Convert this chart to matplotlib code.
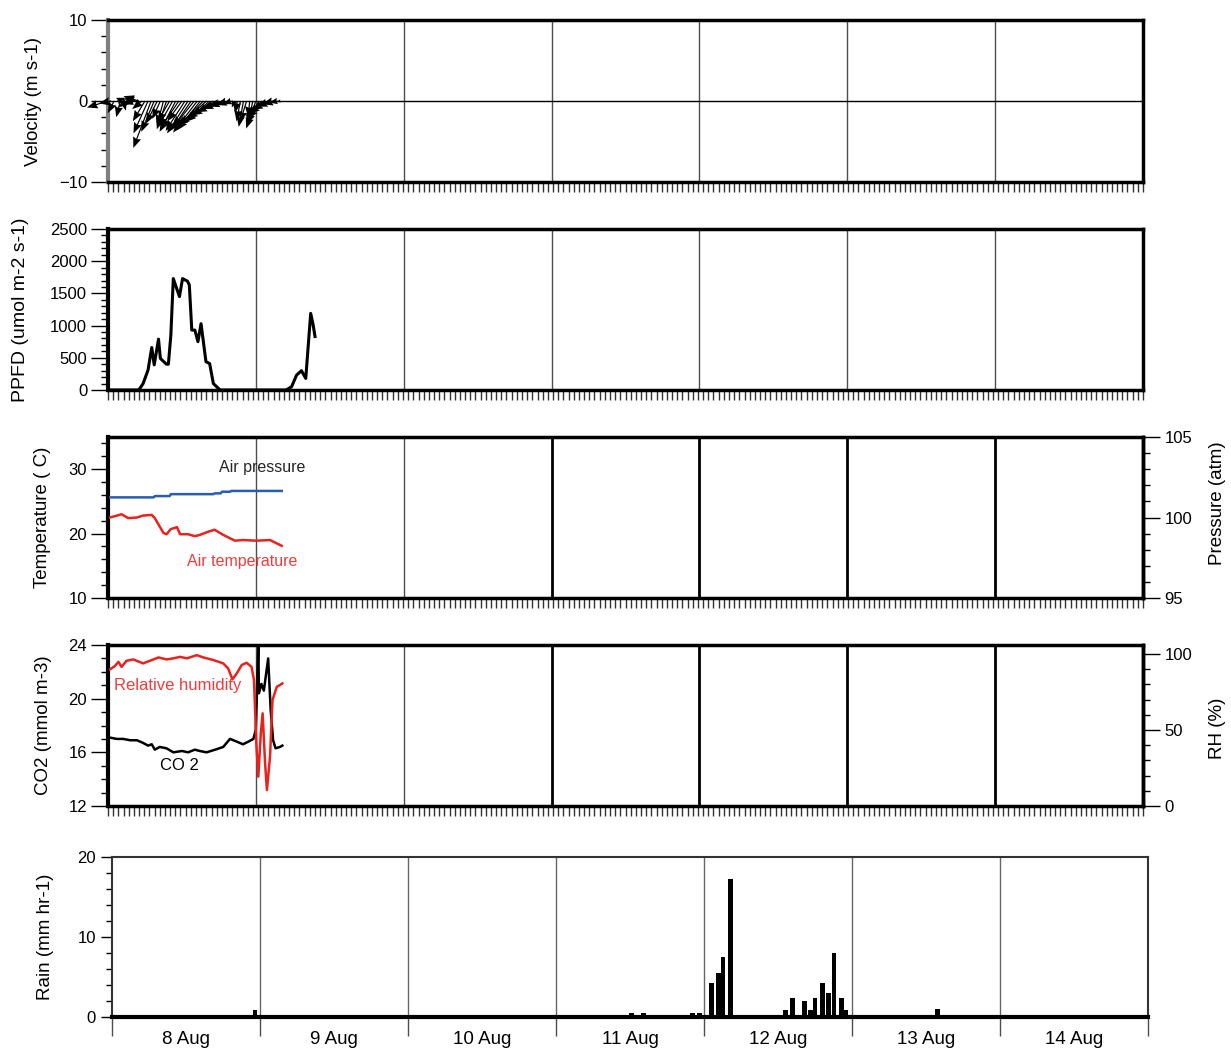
import numpy as np
import matplotlib
matplotlib.use("Agg")
import matplotlib.pyplot as plt
from matplotlib.ticker import MultipleLocator

plt.rcParams['font.family'] = ['Liberation Sans', 'DejaVu Sans']

# data (hours from 8 Aug 00:00)
wind_t = [0, 0.5, 1, 1.5, 2, 2.5, 3, 3.5, 4, 4.5, 5, 5.5, 6, 6.5, 7, 7.5, 8, 8.5, 9, 9.5,
          10, 10.5, 11, 11.5, 12, 12.5, 13, 13.5, 14, 14.5, 15, 15.5, 16, 16.5, 17, 17.5,
          18, 18.5, 19, 19.5, 20, 20.5, 21, 21.5, 22, 22.5, 23, 23.5, 24, 24.5, 25, 25.5,
          26, 26.5, 27, 27.5, 28]
wind_u = [-2.6, -1.5, -0.8, 1.0, -0.5, 0.3, -1.0, -0.5, -1.2, -1.5, -1.9, -1.2, -1.5, -1.8,
          -2.2, -1.6, -1.4, -1.0, -0.8, -1.2, -1.5, -1.8, -2.0, -2.3, -1.8, -2.4, -2.6, -2.2,
          -2.8, -3.0, -2.9, -3.2, -3.4, -3.0, -3.2, -3.0, -2.8, -2.4, -2.0, -1.5, -1.0, -0.3,
          -0.3, -0.5, -0.6, -0.8, -0.2, -0.6, -1.2, -1.6, -1.8, -2.0, -2.0, -1.8, -1.5, -1.0, -0.5]
wind_v = [-0.8, -0.3, -1.5, 0.4, -2.0, -1.2, -0.8, -0.5, -0.4, 0.3, 0.6, -1.0, -2.5, -4.0,
          -5.8, -3.8, -2.8, -2.2, -3.0, -3.5, -2.6, -3.2, -3.8, -3.4, -2.5, -3.7, -4.0, -3.2,
          -3.5, -3.9, -3.6, -3.2, -3.0, -2.6, -2.2, -1.8, -1.4, -1.0, -0.7, -0.5, -0.4, -0.8,
          -1.5, -2.5, -3.2, -2.6, -2.0, -3.0, -3.4, -2.8, -2.2, -1.6, -1.1, -0.7, -0.4, -0.2, -0.1]

ppfd_t = [0, 5.0, 5.7, 6.5, 7.1, 7.5, 8.2, 8.5, 9.5, 9.8, 10.2, 10.6, 11.6, 12.1, 12.9, 13.2,
          13.6, 14.1, 14.6, 15.1, 15.9, 16.5, 17.1, 18.2, 28.9, 29.8, 30.6, 31.4, 32.1, 32.9,
          33.3, 33.6]
ppfd = [0, 0, 100, 310, 660, 390, 790, 490, 400, 400, 850, 1730, 1450, 1730, 1690, 1630,
        930, 930, 750, 1030, 440, 410, 100, 0, 0, 50, 230, 300, 180, 1190, 1010, 830]

temp_t = [0.3, 1.1, 2.2, 3.3, 4.7, 5.7, 7.1, 7.6, 9.0, 9.5, 10.2, 11.2, 11.7, 13.0, 14.1,
          14.9, 16.3, 17.3, 18.7, 20.6, 21.9, 24.1, 26.3, 28.2]
temp = [22.5, 22.7, 23.0, 22.4, 22.5, 22.8, 22.9, 22.4, 20.1, 19.9, 20.7, 21.0, 19.9, 19.9,
        19.6, 19.8, 20.3, 20.6, 19.8, 18.9, 19.0, 18.9, 19.0, 18.1]
pres_t = [0.3, 7.4, 7.6, 10.0, 10.2, 17.1, 17.3, 18.3, 18.5, 19.8, 20.0, 28.2]
pres = [101.25, 101.25, 101.33, 101.33, 101.45, 101.45, 101.5, 101.5, 101.6, 101.6, 101.65, 101.65]

co2_t = [0.3, 1.4, 2.5, 3.6, 4.7, 5.7, 6.5, 7.1, 7.6, 8.4, 9.5, 10.6, 12.0, 13.0, 14.1, 14.9,
         16.0, 17.4, 18.7, 19.8, 20.9, 21.9, 22.8, 23.6, 24.0, 24.4, 24.5, 24.9, 25.3, 26.0,
         26.4, 26.8, 27.2, 27.9, 28.3]
co2 = [17.1, 17.0, 17.0, 16.9, 16.9, 16.7, 16.5, 16.6, 16.2, 16.4, 16.3, 16.0, 16.1, 16.0,
       16.2, 16.1, 16.0, 16.2, 16.4, 17.0, 16.8, 16.6, 16.8, 17.0, 17.7, 24.1, 20.4, 21.1,
       20.6, 23.0, 19.2, 16.9, 16.3, 16.4, 16.5]
rh_t = [0.3, 1.1, 1.7, 2.2, 3.0, 4.1, 5.7, 6.8, 8.2, 9.5, 10.6, 11.7, 12.8, 14.4, 15.5, 17.1,
        18.7, 19.5, 20.2, 20.9, 21.7, 22.5, 23.3, 23.7, 24.1, 24.4, 24.8, 25.1, 25.5, 25.8,
        26.3, 26.7, 27.4, 27.9, 28.3]
rh = [89.9, 92.1, 94.9, 91.6, 95.6, 96.5, 93.9, 95.6, 97.8, 96.5, 97.2, 98.2, 97.2, 99.3,
      97.8, 96.1, 93.9, 90.6, 83.4, 87.3, 92.8, 94.3, 91.6, 82.9, 39.0, 19.3, 47.8, 61.0,
      28.1, 10.5, 32.4, 69.7, 78.5, 79.6, 80.7]

rain_t = [23.2, 84.2, 86.2, 94.1, 95.3, 97.2, 98.4, 99.1, 100.3, 109.2, 110.4, 112.3, 113.3,
          114.0, 115.2, 116.2, 117.1, 118.3, 119.0, 133.9]
rain = [0.9, 0.5, 0.5, 0.5, 0.5, 4.2, 5.5, 7.5, 17.2, 0.9, 2.4, 2.0, 0.9, 2.4, 4.2, 3.0,
        8.0, 2.4, 0.9, 1.0]

days = ['8 Aug', '9 Aug', '10 Aug', '11 Aug', '12 Aug', '13 Aug', '14 Aug']

W, H = 1231, 1052
fig = plt.figure(figsize=(W/100, H/100), dpi=100)

def box(l, t, r, b):
    return [l/W, 1-b/H, (r-l)/W, (b-t)/H]

ax1 = fig.add_axes(box(108, 20, 1143, 182))
ax2 = fig.add_axes(box(108, 229, 1143, 390))
ax3 = fig.add_axes(box(108, 437, 1143, 598))
ax4 = fig.add_axes(box(108, 645, 1143, 806))
ax5 = fig.add_axes(box(112, 857, 1148, 1017))

LBL = 13.5

def style(ax, leftcol='k', thick=[]):
    ax.set_xlim(0, 7)
    for i in range(1, 7):
        if i in thick:
            ax.axvline(i, color='k', lw=2, zorder=0)
        else:
            ax.axvline(i, color='0.3', lw=1, zorder=0)
    ax.set_xticks(np.linspace(0, 7, 201))
    ax.set_xticklabels([])
    ax.tick_params(axis='x', direction='out', length=7, width=1, color='0.2')
    ax.tick_params(axis='y', which='major', direction='out', length=12, width=1, labelsize=12, pad=3)
    ax.tick_params(axis='y', which='minor', direction='out', length=5, width=1)
    ax.spines['left'].set_color(leftcol)
    ax.spines['left'].set_linewidth(3)
    for s in ['top', 'right', 'bottom']:
        ax.spines[s].set_linewidth(2.5)

# Velocity
style(ax1, leftcol='0.5')
ax1.set_ylim(-10, 10)
ax1.set_yticks([-10, 0, 10])
ax1.yaxis.set_minor_locator(MultipleLocator(2))
ax1.axhline(0, color='k', lw=1, zorder=1)
pos = ax1.get_position()
k = (pos.height*H/20)/(pos.width*W/7)
wt = np.array(wind_t)/24
q = ax1.quiver(wt, np.zeros(len(wt)), np.array(wind_u)*k, wind_v, angles='xy', scale_units='xy',
               scale=1, units='dots', width=1.2, headwidth=7, headlength=9, headaxislength=8,
               color='k', zorder=3)
q.set_clip_on(False)
ax1.set_ylabel('Velocity (m s-1)', fontsize=LBL)
ax1.yaxis.set_label_coords(-0.064, 0.5)

# PPFD
style(ax2)
ax2.plot(np.array(ppfd_t)/24, ppfd, color='k', lw=2.2)
ax2.set_ylim(0, 2500)
ax2.set_yticks([0, 500, 1000, 1500, 2000, 2500])
ax2.yaxis.set_minor_locator(MultipleLocator(100))
ax2.set_ylabel('PPFD (umol m-2 s-1)', fontsize=14)
ax2.yaxis.set_label_coords(-0.076, 0.5)

# Temperature / pressure
style(ax3, thick=[3, 4, 5, 6])
ax3.plot(np.array(temp_t)/24, temp, color='#e8231e', lw=1.8, zorder=3)
ax3.set_ylim(10, 35)
ax3.set_yticks([10, 20, 30])
ax3.yaxis.set_minor_locator(MultipleLocator(2))
ax3.set_ylabel('Temperature ( C)', fontsize=LBL)
ax3.yaxis.set_label_coords(-0.055, 0.5)
ax3b = ax3.twinx()
ax3b.plot(np.array(pres_t)/24, pres, color='#2a5db0', lw=1.8)
ax3b.set_ylim(95, 105)
ax3b.set_yticks([95, 100, 105])
ax3b.yaxis.set_minor_locator(MultipleLocator(1))
ax3b.tick_params(axis='y', which='major', direction='out', length=12, width=1, labelsize=12)
ax3b.tick_params(axis='y', which='minor', direction='out', length=5, width=1)
ax3b.spines['right'].set_linewidth(2.5)
ax3b.set_ylabel('Pressure (atm)', fontsize=LBL)
ax3b.yaxis.set_label_coords(1.064, 0.59)
ax3.text(1.04, 30.3, 'Air pressure', color='0.15', fontsize=11.5, ha='center', va='center')
ax3.text(0.905, 15.7, 'Air temperature', color='#f03c3c', fontsize=11.5, ha='center', va='center')

# CO2 / RH
style(ax4, thick=[3, 4, 5, 6])
ax4.plot(np.array(co2_t)/24, co2, color='k', lw=1.8, zorder=3)
ax4.set_ylim(12, 24)
ax4.set_yticks([12, 16, 20, 24])
ax4.yaxis.set_minor_locator(MultipleLocator(1))
ax4.set_ylabel('CO2 (mmol m-3)', fontsize=LBL)
ax4.yaxis.set_label_coords(-0.054, 0.5)
ax4b = ax4.twinx()
ax4b.plot(np.array(rh_t)/24, rh, color='#e8231e', lw=1.8)
ax4b.set_ylim(0, 106)
ax4b.set_yticks([0, 50, 100])
ax4b.yaxis.set_minor_locator(MultipleLocator(10))
ax4b.tick_params(axis='y', which='major', direction='out', length=12, width=1, labelsize=12)
ax4b.tick_params(axis='y', which='minor', direction='out', length=5, width=1)
ax4b.spines['right'].set_linewidth(2.5)
ax4b.set_ylabel('RH (%)', fontsize=LBL)
ax4b.yaxis.set_label_coords(1.064, 0.48)
ax4.text(0.04, 21.0, 'Relative humidity', color='#f03c3c', fontsize=12, ha='left', va='center')
ax4.text(0.486, 15.0, 'CO 2', color='k', fontsize=12, ha='center', va='center')

# Rain
ax5.set_xlim(0, 7)
for i in range(1, 7):
    ax5.axvline(i, color='0.4', lw=1, zorder=0)
ax5.bar(np.array(rain_t)/24, rain, width=0.75/24, color='k', zorder=3)
ax5.set_ylim(0, 20)
ax5.set_yticks([0, 10, 20])
ax5.yaxis.set_minor_locator(MultipleLocator(2))
ax5.set_xticks(range(8))
ax5.set_xticklabels([])
ax5.set_xticks(np.arange(7) + 0.5, minor=True)
ax5.set_xticklabels(days, minor=True, fontsize=13.5)
ax5.tick_params(axis='x', which='major', direction='out', length=14, width=1, color='0.3')
ax5.tick_params(axis='x', which='minor', length=0, pad=10)
ax5.tick_params(axis='y', which='major', direction='out', length=8, width=1, labelsize=12)
ax5.tick_params(axis='y', which='minor', direction='out', length=4, width=1)
ax5.spines['bottom'].set_linewidth(3)
for s in ['top', 'right', 'left']:
    ax5.spines[s].set_linewidth(1.5)
    ax5.spines[s].set_color('0.2')
ax5.set_ylabel('Rain (mm hr-1)', fontsize=LBL)
ax5.yaxis.set_label_coords(-0.056, 0.5)

plt.savefig('out.png', dpi=100)
